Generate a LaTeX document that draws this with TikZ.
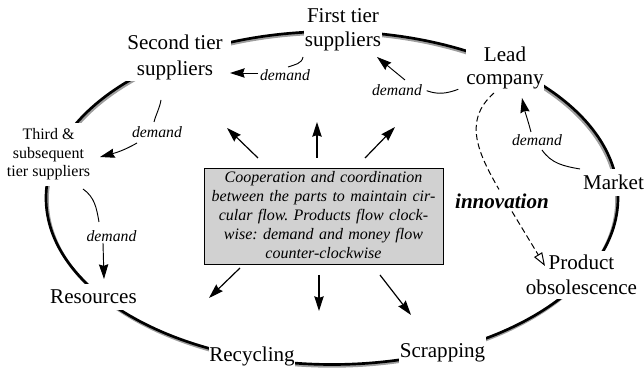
\documentclass[tikz,border=0pt]{standalone}
\usepackage{fontspec}
\setmainfont{Liberation Serif}
\usetikzlibrary{arrows.meta}
\newcommand\stagefont[1]{\fontsize{15.8pt}{#1}\selectfont}
\begin{document}
\frenchspacing
\begin{tikzpicture}[x=0.75pt,y=0.75pt,
  stage/.style={fill=white, align=center, inner xsep=2pt, inner ysep=2pt, font=\stagefont{18.5pt}},
  demandlbl/.style={inner sep=1pt, font=\fontsize{11.8pt}{14pt}\selectfont\itshape},
  ring/.style={line width=2pt, draw=black},
  ringshade/.style={line width=2pt, draw=black!38},
  tip/.style={-{Stealth[length=11pt,width=7pt,inset=1.2pt]}},
  demandline/.style={line width=0.7pt},
  demandarrow/.style={demandline, tip},
  radial/.style={line width=0.9pt, tip},
  innovline/.style={line width=0.75pt, dash pattern=on 4.5pt off 2.5pt},
]
\useasboundingbox (0,0) rectangle (644,371);

% ring of the circular flow, with its soft shadow
\coordinate (ctr) at (332,173);
\draw[ringshade] ([yshift=-1.4pt]ctr) ellipse [x radius=213.4pt, y radius=124.875pt];
\draw[ring] (ctr) ellipse [x radius=214.5pt, y radius=124.875pt];

% stages on the ring (their white boxes break the ring around each label)
\node[stage, inner xsep=6pt, inner ysep=0.75pt, font=\stagefont{19.5pt}] (second) at (175,313.2) {Second tier\\suppliers};
\node[stage, inner xsep=0.75pt, font=\stagefont{17.5pt}] (first) at (343,341.2) {First tier\\suppliers};
\node[stage, inner xsep=0.5pt, font=\stagefont{17.3pt}] (lead) at (505,303.2) {Lead\\company};
\node[stage, inner ysep=4.9pt] (market) at (613.5,188.5) {Market};
\node[stage, inner ysep=3pt, font=\stagefont{18.8pt}] (product) at (581.5,96) {Product\\obsolescence};
\node[stage, inner xsep=0.75pt, inner ysep=5pt] (scrap) at (442.5,18.5) {Scrapping};
\node[stage, inner xsep=0.5pt] (recyc) at (252,14.5) {Recycling};
\node[stage, inner ysep=4.5pt] (resources) at (93.5,74) {Resources};
\node[stage, inner ysep=4.5pt, font=\fontsize{12pt}{13.9pt}\selectfont] (third) at (48.5,216.4) {Third \&\\subsequent\\tier suppliers};

% central note
\node[draw, line width=0.75pt, fill=black!18, minimum width=179.25pt, minimum height=72pt,
      text width=172pt, align=center, inner sep=1pt,
      font=\fontsize{12pt}{14.25pt}\selectfont\itshape] (coop) at (323.5,154)
  {Cooperation and coordination\\between the parts to maintain cir-\\cular flow. Products flow clock-\\wise: demand and money flow\\counter-clockwise\rule[-3.75pt]{0pt}{0pt}};

% demand labels
\node[demandlbl] (d1) at (285,295.5) {demand};
\node[demandlbl] (d2) at (157,238.5) {demand};
\node[demandlbl] (d3) at (111.5,135) {demand};
\node[demandlbl] (d4) at (397,281) {demand};
\node[demandlbl] (d5) at (537,231) {demand};
\node[inner sep=1pt, font=\stagefont{18pt}\bfseries\itshape] (innov) at (502,169.5) {innovation};

% demand flows counter-clockwise
\draw[demandline] ([shift={(-40,-27.2)}]first.center) to[out=-100,in=20] ([shift={(3,8.5)}]d1.center);
\draw[demandarrow] ([shift={(-27,2.5)}]d1.center) -- ([shift={(55,-15.2)}]second.center);
\draw[demandline] ([shift={(-14,-42.2)}]second.center) to[out=-100,in=75] ([shift={(-3,10.5)}]d2.center);
\draw[demandarrow] ([shift={(-20,-10.5)}]d2.center) to[out=210,in=15] ([shift={(51.5,-2.4)}]third.center);
\draw[demandline] ([shift={(34.5,-34.4)}]third.center) to[out=-35,in=100] ([shift={(-12.5,14)}]d3.center);
\draw[demandarrow] ([shift={(-8.5,-7)}]d3.center) -- ([shift={(10.5,18)}]resources.center);
\draw[demandline] ([shift={(-46.7,-21.5)}]lead.center) to[out=200,in=-20] ([shift={(29.7,-0.7)}]d4.center);
\draw[demandarrow] ([shift={(8,10)}]d4.center) -- ([shift={(34,-27.2)}]first.center);
\draw[demandline] ([shift={(-33.5,13.5)}]market.center) to[out=170,in=-55] ([shift={(5,-10)}]d5.center);
\draw[demandarrow] ([shift={(-6,8)}]d5.center) to[out=105,in=-78] ([shift={(17,-30.2)}]lead.center);

% innovation makes products obsolete
\draw[innovline] ([shift={(-11,-25.2)}]lead.center) .. controls +(-32,-28) and +(-20,35) .. ([shift={(-3,12)}]innov.center);
\draw[innovline, -{Triangle[open,length=10pt,width=7pt]}] ([shift={(10,-10)}]innov.center) -- ([shift={(-36.5,9)}]product.center);

% coordination reaches every part of the ring
\foreach \dx/\dy/\ex/\ey in {-65.5/59/-31/30, -6.5/59/0/36, 41.5/59/30/31, -83.5/-51/-31/-30, -4.5/-58/0/-36, 56.5/-58/31/-40}
  \draw[radial] ([shift={(\dx,\dy)}]coop.center) -- ++(\ex,\ey);
\end{tikzpicture}
\end{document}
